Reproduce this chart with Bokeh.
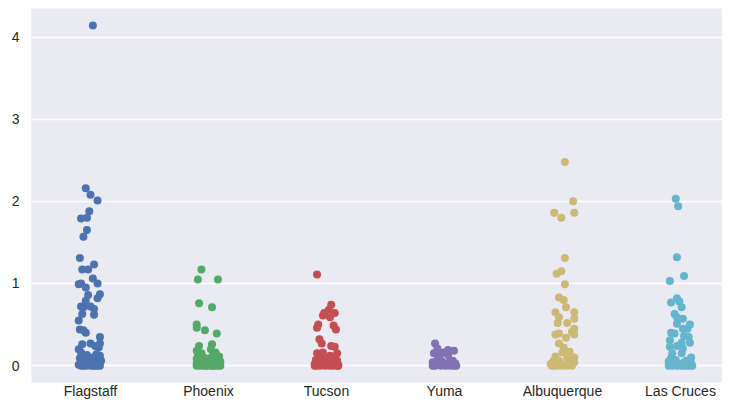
from bokeh.plotting import figure
from bokeh.models import FixedTicker, Range1d, ColumnDataSource
from bokeh.embed import file_html
from bokeh.resources import INLINE

categories = ["Flagstaff", "Phoenix", "Tucson", "Yuma", "Albuquerque", "Las Cruces"]
colors = ["#4C72B0", "#55A868", "#C44E52", "#8172B2", "#CCB974", "#64B5CD"]
y_ticks = [0, 1, 2, 3, 4]

flagstaff_vals = [4.14, 2.16, 2.08, 2.01, 1.88, 1.79, 1.80, 1.65, 1.57, 1.31, 1.23, 1.17, 1.17, 1.06,
                  0.99, 1.00, 1.00, 0.95, 0.86, 0.87, 0.82, 0.79, 0.72, 0.72, 0.71, 0.69, 0.63, 0.62,
                  0.55, 0.44, 0.43, 0.40, 0.35, 0.27, 0.27, 0.26, 0.24, 0.20, 0.22,
                  0.16, 0.14, 0.13, 0.12, 0.11, 0.10, 0.09, 0.08, 0.07, 0.06, 0.05, 0.04, 0.03, 0.03,
                  0.02, 0.02, 0.01, 0.01, 0, 0, 0, 0, 0, 0, 0, 0]
flagstaff_jit = [0.02, -0.04, 0.00, 0.06, -0.01, -0.08, -0.03, -0.03, -0.06, -0.09, 0.03, -0.07, -0.02, 0.02,
                 -0.10, -0.08, 0.06, -0.04, -0.02, 0.08, 0.06, -0.04, -0.08, 0.00, -0.06, 0.03, -0.07, 0.03,
                 -0.10, -0.09, -0.06, -0.04, 0.08, 0.08, 0.00, -0.07, 0.04, -0.10, 0.07,
                 -0.08, 0.05, -0.03, 0.08, -0.06, 0.02, -0.09, 0.06, -0.01, 0.09, -0.05, 0.03, -0.07, 0.07,
                 -0.02, 0.04, -0.10, 0.01, -0.08, -0.04, 0.00, 0.04, 0.08, -0.06, 0.02, 0.06]

phoenix_vals = [1.17, 1.05, 1.05, 0.76, 0.71, 0.50, 0.46, 0.43, 0.39, 0.26, 0.24, 0.20, 0.18, 0.16, 0.15,
                0.13, 0.12, 0.11, 0.10, 0.09, 0.08, 0.07, 0.06, 0.05, 0.05, 0.04, 0.03, 0.03, 0.02, 0.02,
                0.01, 0.01, 0.01, 0, 0, 0, 0, 0, 0, 0, 0, 0, 0]
phoenix_jit = [-0.06, -0.09, 0.08, -0.08, 0.03, -0.10, -0.10, -0.03, 0.07, 0.03, -0.08, 0.02, -0.10, 0.06, -0.06,
               0.04, -0.09, 0.09, -0.04, 0.01, -0.10, 0.06, -0.06, 0.10, -0.01, -0.08, 0.05, -0.03, 0.08, -0.10,
               0.02, -0.05, 0.07, -0.10, -0.07, -0.04, -0.01, 0.02, 0.05, 0.08, 0.10, -0.02, 0.04]

tucson_vals = [1.11, 0.74, 0.68, 0.64, 0.64, 0.61, 0.59, 0.50, 0.46, 0.49, 0.44, 0.32, 0.27, 0.24, 0.23,
               0.15, 0.16, 0.15, 0.12,
               0.10, 0.09, 0.08, 0.07, 0.06, 0.05, 0.04, 0.03, 0.03, 0.02, 0.02, 0.01, 0.01,
               0, 0, 0, 0, 0, 0, 0, 0]
tucson_jit = [-0.08, 0.04, 0.02, -0.02, 0.07, -0.03, 0.03, -0.07, -0.08, 0.06, 0.08, -0.06, -0.04, 0.04, 0.07,
              -0.08, -0.03, 0.09, 0.03,
              -0.05, 0.06, 0.00, -0.09, 0.09, -0.02, 0.04, -0.07, 0.08, -0.10, 0.02, -0.04, 0.10,
              -0.10, -0.08, -0.05, -0.01, 0.03, 0.06, 0.09, 0.10]

yuma_vals = [0.27, 0.21, 0.16, 0.18, 0.13, 0.15, 0.12, 0.19,
             0.07, 0.06, 0.05, 0.04, 0.04, 0.03, 0.02, 0.02, 0.01, 0.01, 0, 0, 0, 0, 0, 0, 0]
yuma_jit = [-0.08, -0.06, -0.01, 0.08, 0.03, -0.09, -0.04, 0.03,
            -0.06, 0.07, -0.02, 0.04, -0.10, 0.09, -0.07, 0.01, 0.06, -0.04, -0.10, -0.08, -0.03, 0.01, 0.05, 0.08, 0.10]

albuquerque_vals = [2.48, 2.00, 1.86, 1.86, 1.80, 1.31, 1.12, 1.15, 0.99, 0.83, 0.80, 0.71, 0.65, 0.65,
                    0.52, 0.57, 0.52, 0.45, 0.41, 0.38, 0.34, 0.38, 0.27, 0.22, 0.17, 0.11, 0.10, 0.06,
                    0.59, 0.39, 0.16, 0.09, 0.04, 0.04,
                    0.05, 0.04, 0.03, 0.02, 0.02, 0.01, 0.01, 0, 0, 0, 0, 0, 0]
albuquerque_jit = [0.02, 0.09, 0.10, -0.07, -0.01, 0.02, -0.05, -0.01, 0.02, -0.03, 0.01, 0.03, -0.06, 0.10,
                   0.04, 0.10, -0.04, 0.10, 0.08, -0.06, 0.03, 0.10, -0.03, 0.01, 0.06, -0.06, 0.10, -0.03,
                   -0.03, -0.03, 0.00, 0.04, -0.07, 0.10,
                   -0.08, 0.09, -0.03, 0.05, -0.10, 0.02, 0.07, -0.07, -0.04, 0.00, 0.04, 0.08, -0.09]

lascruces_vals = [2.03, 1.94, 1.32, 1.09, 1.03, 0.82, 0.77, 0.78, 0.71, 0.63, 0.59, 0.57, 0.50, 0.51,
                  0.45, 0.45, 0.40, 0.39, 0.36, 0.35, 0.31, 0.28, 0.28, 0.23, 0.24, 0.21, 0.15, 0.15,
                  0.10, 0.09,
                  0.07, 0.06, 0.05, 0.04, 0.03, 0.02, 0.02, 0.01, 0.01, 0, 0, 0, 0, 0, 0, 0, 0]
lascruces_jit = [-0.04, -0.02, -0.03, 0.03, -0.09, -0.03, -0.08, -0.01, 0.01, -0.05, -0.03, 0.02, 0.08, -0.03,
                 0.06, 0.02, -0.08, -0.05, 0.03, 0.07, -0.09, 0.01, 0.08, -0.09, -0.03, 0.02, -0.07, 0.01,
                 0.09, -0.08,
                 -0.04, 0.05, -0.10, 0.03, 0.09, -0.06, -0.01, 0.07, -0.09, -0.10, -0.07, -0.03, 0.00, 0.03, 0.06, 0.09, 0.10]

series_vals = [flagstaff_vals, phoenix_vals, tucson_vals, yuma_vals, albuquerque_vals, lascruces_vals]
series_jit = [flagstaff_jit, phoenix_jit, tucson_jit, yuma_jit, albuquerque_jit, lascruces_jit]

p = figure(width=722, height=401, output_backend="svg", toolbar_location=None,
           x_range=Range1d(-0.5, 5.356), y_range=Range1d(-0.205, 4.347),
           min_border_left=31, min_border_right=0, min_border_top=8, min_border_bottom=15)

p.background_fill_color = "#EAEAF2"
p.border_fill_color = "white"
p.outline_line_color = None

for i, (vals, jit) in enumerate(zip(series_vals, series_jit)):
    xs = [i + j for j in jit]
    src = ColumnDataSource(dict(x=xs, y=vals))
    p.scatter("x", "y", source=src, size=8, fill_color=colors[i], line_color=None)

p.xgrid.visible = False
p.ygrid.grid_line_color = "white"
p.ygrid.grid_line_width = 1.3
p.ygrid.ticker = FixedTicker(ticks=y_ticks)

p.yaxis.ticker = FixedTicker(ticks=y_ticks)
p.xaxis.ticker = FixedTicker(ticks=list(range(len(categories))))
p.xaxis.major_label_overrides = {i: c for i, c in enumerate(categories)}

for ax in (p.xaxis, p.yaxis):
    ax.axis_line_color = None
    ax.major_tick_line_color = None
    ax.minor_tick_line_color = None
    ax.major_tick_out = 0
    ax.major_tick_in = 0
    ax.major_label_text_font = "Liberation Sans"
    ax.major_label_text_font_size = "14px"
    ax.major_label_text_color = "#262626"

p.yaxis.major_label_standoff = 12
p.xaxis.major_label_standoff = 0

open("out.html", "w").write(file_html(p, INLINE))
